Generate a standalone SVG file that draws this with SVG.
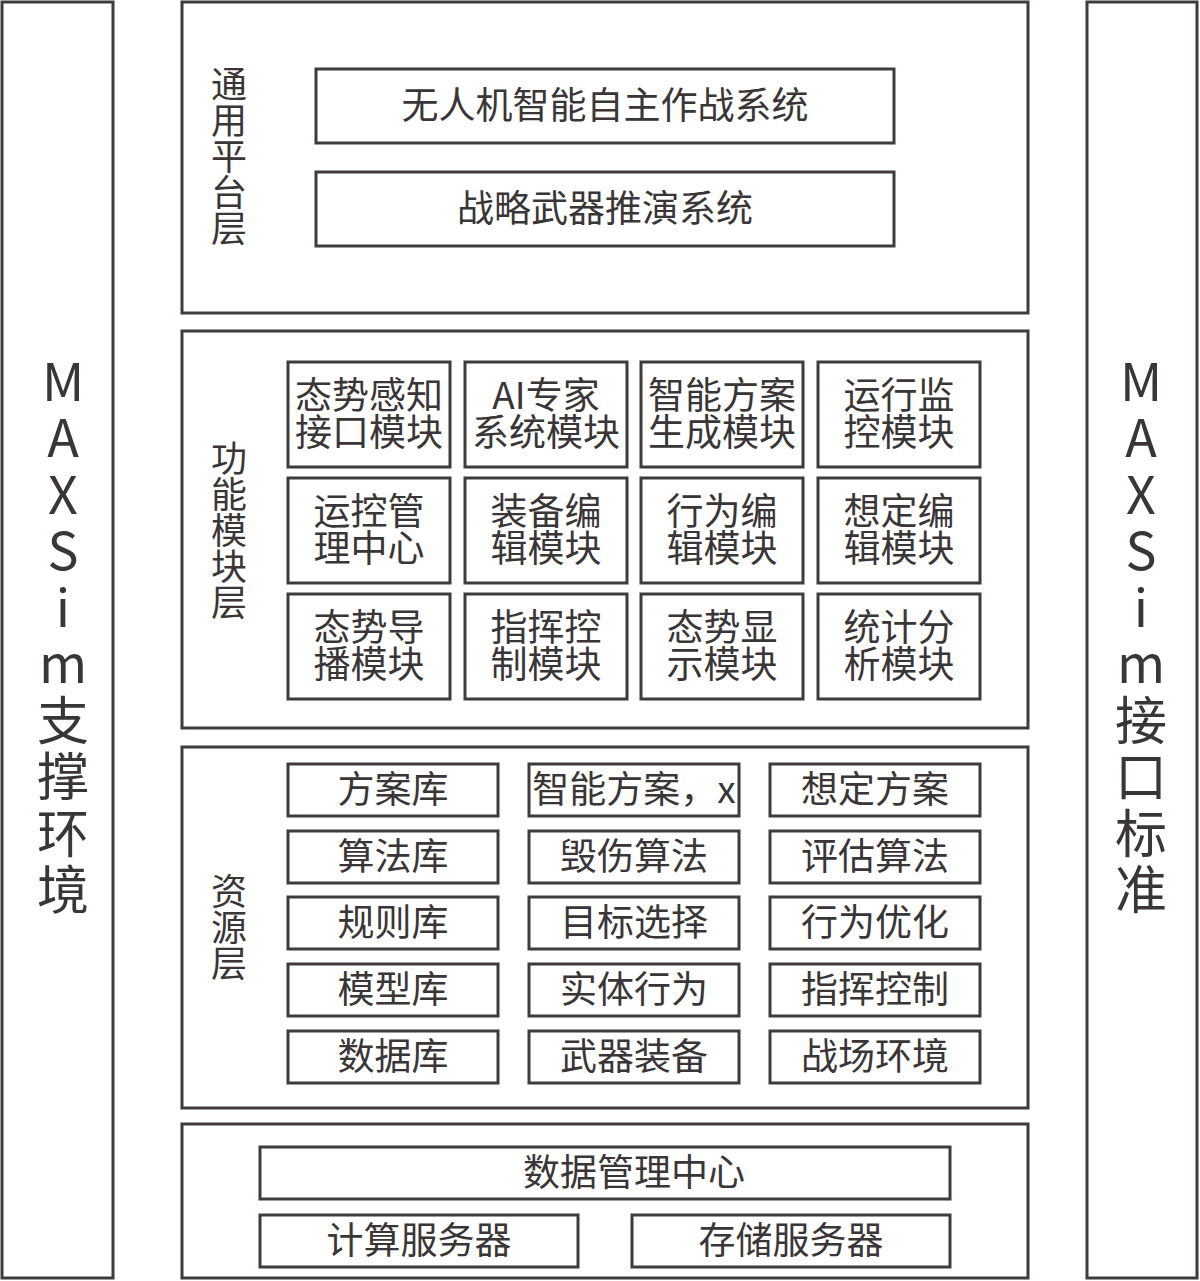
<svg xmlns="http://www.w3.org/2000/svg" width="1200" height="1281" viewBox="0 0 1200 1281">
<style>
rect{fill:#fff;stroke:#403b3b;stroke-width:3}
text{font-family:"Noto Sans CJK SC","Noto Sans",sans-serif;fill:#3a3536;font-size:37px;text-anchor:middle}
.vl{font-size:36px;writing-mode:vertical-rl;text-anchor:start}
.side{font-size:52px;writing-mode:vertical-rl;text-orientation:upright;text-anchor:start;letter-spacing:4.5px}
</style>
<rect x="0" y="0" width="1200" height="1281" style="stroke:none"/>
<g id="left-support">
<rect x="2" y="2" width="111" height="1276"/>
<text class="side" x="63" y="355">MAXSim支撑环境</text>
</g>
<g id="right-interface">
<rect x="1087" y="2" width="110" height="1276"/>
<text class="side" x="1141" y="355">MAXSim接口标准</text>
</g>
<g id="platform-layer">
<rect x="182" y="2" width="846" height="311"/>
<text class="vl" x="229" y="66">通用平台层</text>
</g>
<g id="uav-system"><rect x="316" y="69" width="578" height="74"/><text x="605" y="119">无人机智能自主作战系统</text></g>
<g id="strategic-system"><rect x="316" y="172" width="578" height="74"/><text x="605" y="222">战略武器推演系统</text></g>
<g id="function-layer">
<rect x="182" y="331" width="846" height="397"/>
<text class="vl" x="229" y="440">功能模块层</text>
</g>
<g id="f1"><rect x="288" y="362" width="162" height="105"/><text><tspan x="369" y="409">态势感知</tspan><tspan x="369" y="446">接口模块</tspan></text></g>
<g id="f2"><rect x="465" y="362" width="162" height="105"/><text><tspan x="546" y="409">AI专家</tspan><tspan x="546" y="446">系统模块</tspan></text></g>
<g id="f3"><rect x="641" y="362" width="162" height="105"/><text><tspan x="722" y="409">智能方案</tspan><tspan x="722" y="446">生成模块</tspan></text></g>
<g id="f4"><rect x="818" y="362" width="162" height="105"/><text><tspan x="899" y="409">运行监</tspan><tspan x="899" y="446">控模块</tspan></text></g>
<g id="f5"><rect x="288" y="478" width="162" height="105"/><text><tspan x="369" y="525">运控管</tspan><tspan x="369" y="562">理中心</tspan></text></g>
<g id="f6"><rect x="465" y="478" width="162" height="105"/><text><tspan x="546" y="525">装备编</tspan><tspan x="546" y="562">辑模块</tspan></text></g>
<g id="f7"><rect x="641" y="478" width="162" height="105"/><text><tspan x="722" y="525">行为编</tspan><tspan x="722" y="562">辑模块</tspan></text></g>
<g id="f8"><rect x="818" y="478" width="162" height="105"/><text><tspan x="899" y="525">想定编</tspan><tspan x="899" y="562">辑模块</tspan></text></g>
<g id="f9"><rect x="288" y="594" width="162" height="105"/><text><tspan x="369" y="641">态势导</tspan><tspan x="369" y="678">播模块</tspan></text></g>
<g id="f10"><rect x="465" y="594" width="162" height="105"/><text><tspan x="546" y="641">指挥控</tspan><tspan x="546" y="678">制模块</tspan></text></g>
<g id="f11"><rect x="641" y="594" width="162" height="105"/><text><tspan x="722" y="641">态势显</tspan><tspan x="722" y="678">示模块</tspan></text></g>
<g id="f12"><rect x="818" y="594" width="162" height="105"/><text><tspan x="899" y="641">统计分</tspan><tspan x="899" y="678">析模块</tspan></text></g>
<g id="resource-layer">
<rect x="182" y="747" width="846" height="361"/>
<text class="vl" x="229" y="873">资源层</text>
</g>
<g id="r1"><rect x="288" y="764" width="210" height="52"/><text x="393" y="803">方案库</text></g>
<g id="r2"><rect x="529" y="764" width="210" height="52"/><text x="634" y="803">智能方案，x</text></g>
<g id="r3"><rect x="770" y="764" width="210" height="52"/><text x="875" y="803">想定方案</text></g>
<g id="r4"><rect x="288" y="831" width="210" height="52"/><text x="393" y="870">算法库</text></g>
<g id="r5"><rect x="529" y="831" width="210" height="52"/><text x="634" y="870">毁伤算法</text></g>
<g id="r6"><rect x="770" y="831" width="210" height="52"/><text x="875" y="870">评估算法</text></g>
<g id="r7"><rect x="288" y="897" width="210" height="52"/><text x="393" y="936">规则库</text></g>
<g id="r8"><rect x="529" y="897" width="210" height="52"/><text x="634" y="936">目标选择</text></g>
<g id="r9"><rect x="770" y="897" width="210" height="52"/><text x="875" y="936">行为优化</text></g>
<g id="r10"><rect x="288" y="964" width="210" height="52"/><text x="393" y="1003">模型库</text></g>
<g id="r11"><rect x="529" y="964" width="210" height="52"/><text x="634" y="1003">实体行为</text></g>
<g id="r12"><rect x="770" y="964" width="210" height="52"/><text x="875" y="1003">指挥控制</text></g>
<g id="r13"><rect x="288" y="1031" width="210" height="52"/><text x="393" y="1070">数据库</text></g>
<g id="r14"><rect x="529" y="1031" width="210" height="52"/><text x="634" y="1070">武器装备</text></g>
<g id="r15"><rect x="770" y="1031" width="210" height="52"/><text x="875" y="1070">战场环境</text></g>
<g id="infra-layer"><rect x="182" y="1124" width="846" height="154"/></g>
<g id="data-center"><rect x="260" y="1147" width="690" height="52"/><text x="634" y="1186">数据管理中心</text></g>
<g id="compute-server"><rect x="260" y="1215" width="318" height="52"/><text x="419" y="1254">计算服务器</text></g>
<g id="storage-server"><rect x="632" y="1215" width="318" height="52"/><text x="791" y="1254">存储服务器</text></g>
<g id="connectors"/>
</svg>
